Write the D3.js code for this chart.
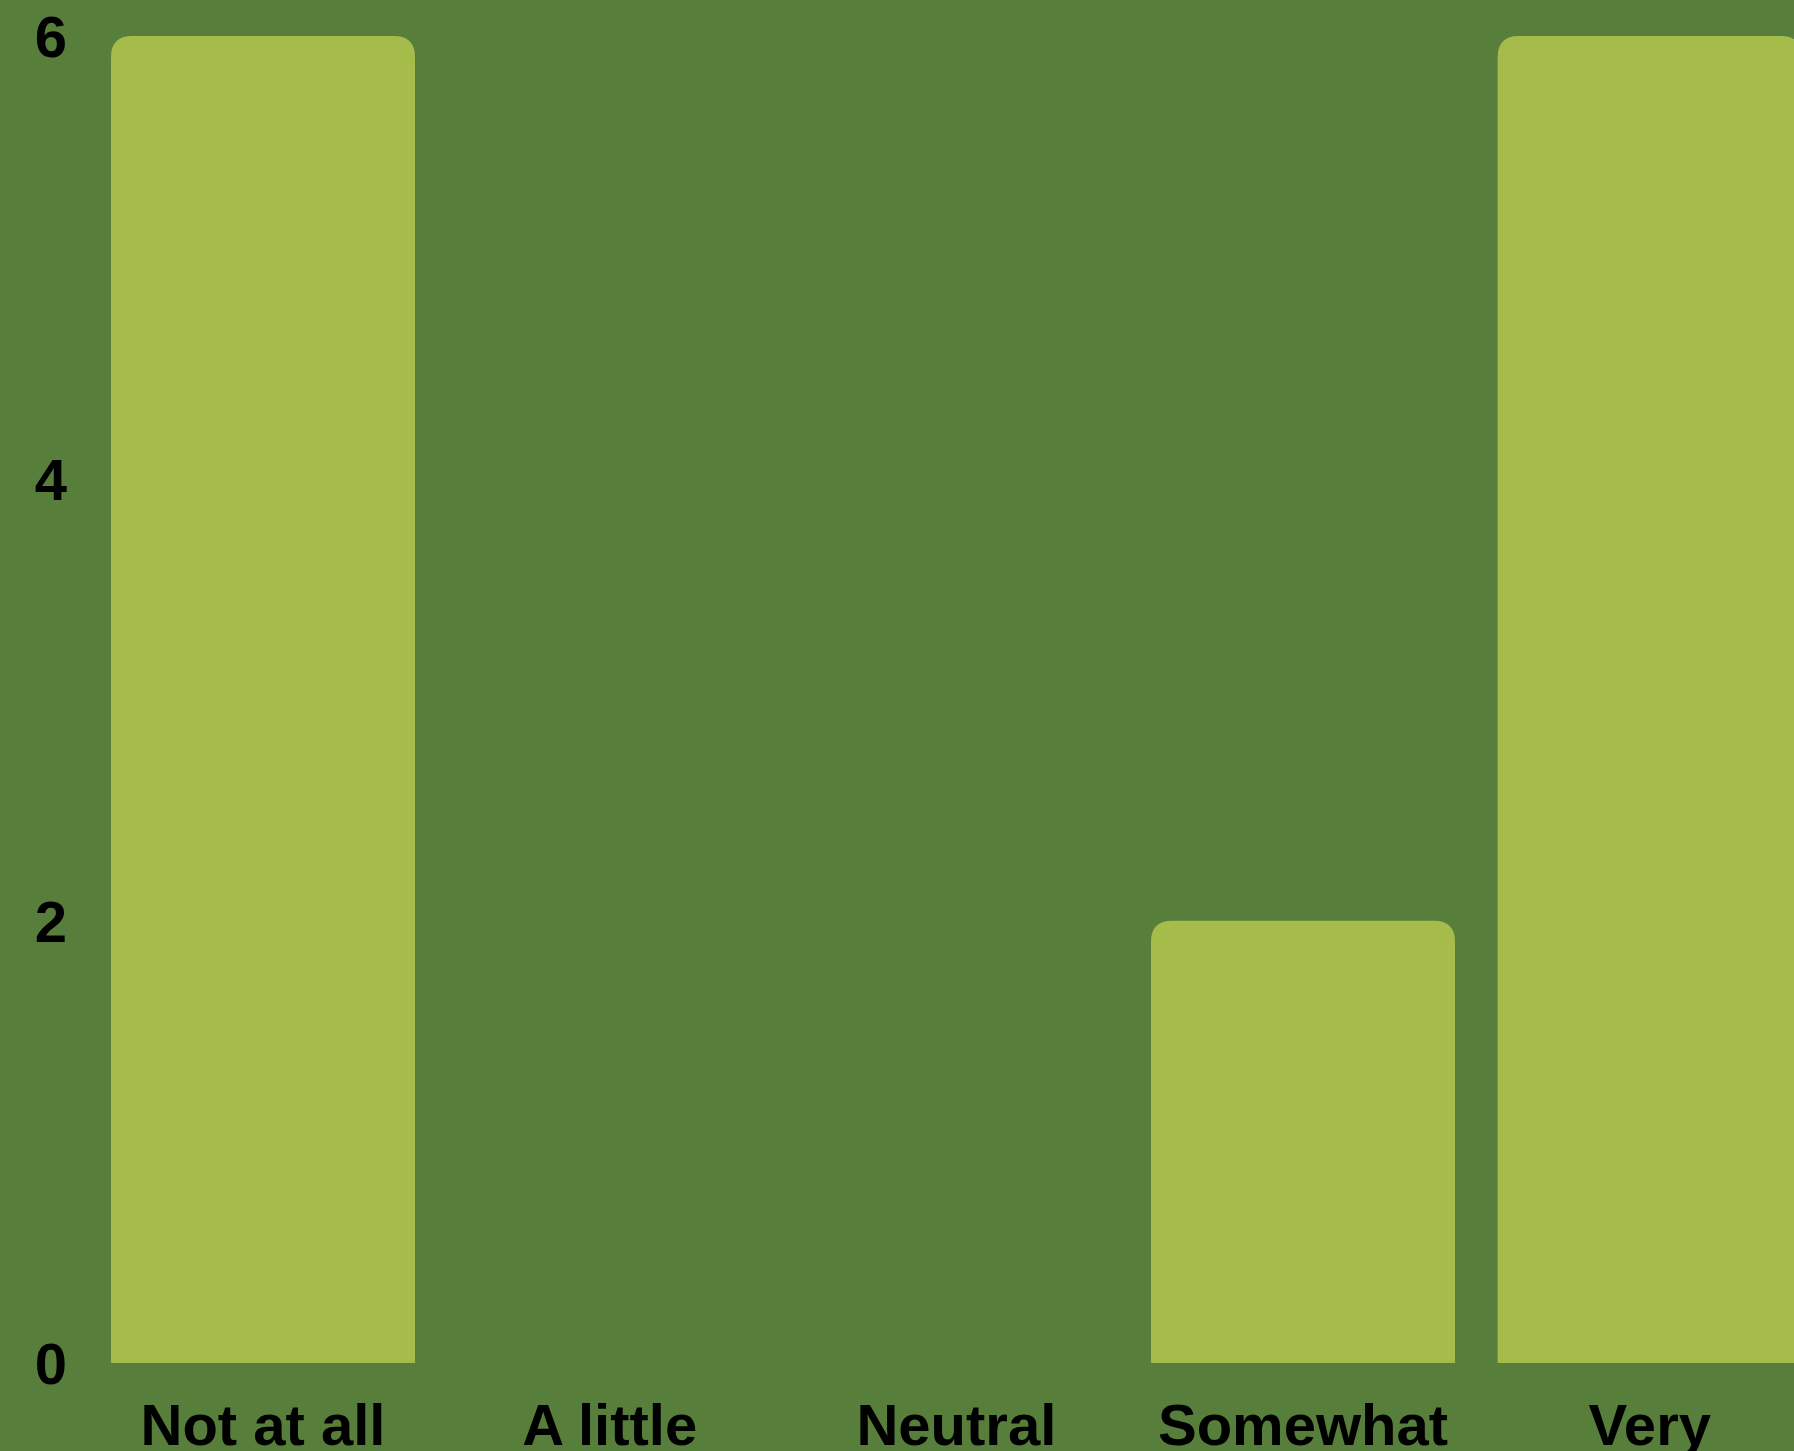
<!DOCTYPE html>
<html>
<head>
<meta charset="utf-8">
<script src="https://cdn.jsdelivr.net/npm/d3@7"></script>
<style>
  html, body { margin: 0; padding: 0; background: #577e3a; }
  svg { display: block; }
</style>
</head>
<body>
<svg id="chart" width="1794" height="1451"></svg>
<script>
const categories = ["Not at all", "A little", "Neutral", "Somewhat", "Very"];
const values = [6, 0, 0, 2, 6];
const yTicks = [0, 2, 4, 6];

const W = 1794, H = 1451;
const svg = d3.select("#chart");
svg.append("rect").attr("width", W).attr("height", H).attr("fill", "#577e3a");

const x = d3.scaleBand()
  .domain(categories)
  .range([89.67, 1823])
  .paddingInner(0.123)
  .paddingOuter(0.0615);

const y = d3.scaleLinear().domain([0, 6]).range([1363, 36]);

const r = 21;
function topRounded(x0, y0, w, h) {
  if (h <= 0) return "";
  const rr = Math.min(r, w / 2, h);
  return `M${x0},${y0 + h}V${y0 + rr}Q${x0},${y0} ${x0 + rr},${y0}H${x0 + w - rr}Q${x0 + w},${y0} ${x0 + w},${y0 + rr}V${y0 + h}Z`;
}

svg.append("g").selectAll("path")
  .data(categories.map((c, i) => ({ c, v: values[i] })))
  .join("path")
  .attr("d", d => topRounded(x(d.c), y(d.v), x.bandwidth(), y(0) - y(d.v)))
  .attr("fill", "#a5bc4a");

const font = "'Liberation Sans', Arial, sans-serif";

// y axis
const yAxis = svg.append("g")
  .attr("transform", "translate(67,0)")
  .call(d3.axisLeft(y).tickValues(yTicks).tickSize(0).tickPadding(0).tickFormat(d3.format("d")));
yAxis.select(".domain").remove();
yAxis.selectAll("text")
  .attr("font-family", font)
  .attr("font-weight", "bold")
  .attr("font-size", 58)
  .attr("fill", "#000")
  .attr("dy", "0.36em");

// x axis
const xAxis = svg.append("g")
  .attr("transform", "translate(0,1363)")
  .call(d3.axisBottom(x).tickSize(0).tickPadding(0));
xAxis.select(".domain").remove();
xAxis.selectAll("text")
  .attr("font-family", font)
  .attr("font-weight", "bold")
  .attr("font-size", 58)
  .attr("fill", "#000")
  .attr("dy", null)
  .attr("y", 82);
</script>
</body>
</html>
